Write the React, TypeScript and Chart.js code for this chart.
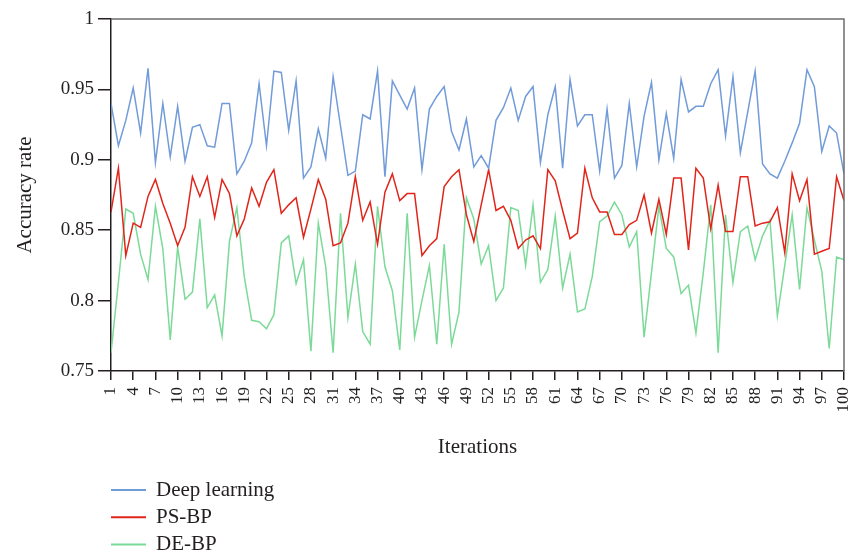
import React, { useEffect, useRef } from "react";
import { Chart, registerables } from "chart.js";

Chart.register(...registerables);

const iterations: number[] = Array.from({ length: 100 }, (_, i) => i + 1);

const xTickValues: number[] = [1, 4, 7, 10, 13, 16, 19, 22, 25, 28, 31, 34, 37, 40, 43, 46, 49, 52, 55, 58, 61, 64, 67, 70, 73, 76, 79, 82, 85, 88, 91, 94, 97, 100];
const yTickValues: number[] = [0.75, 0.8, 0.85, 0.9, 0.95, 1];
const yTickLabels: string[] = ["0.75", "0.8", "0.85", "0.9", "0.95", "1"];

const seriesNames: string[] = ["Deep learning", "PS-BP", "DE-BP"];

const deepLearning: number[] = [
  0.940, 0.910, 0.928, 0.951, 0.919, 0.965, 0.898, 0.940, 0.902, 0.938,
  0.899, 0.923, 0.925, 0.910, 0.909, 0.940, 0.940, 0.890, 0.899, 0.912,
  0.954, 0.910, 0.963, 0.962, 0.921, 0.956, 0.887, 0.895, 0.922, 0.901,
  0.959, 0.924, 0.889, 0.892, 0.932, 0.929, 0.963, 0.888, 0.956, 0.946,
  0.936, 0.951, 0.893, 0.936, 0.945, 0.952, 0.920, 0.907, 0.929, 0.895,
  0.903, 0.894, 0.928, 0.937, 0.951, 0.928, 0.945, 0.952, 0.898, 0.932,
  0.952, 0.894, 0.957, 0.924, 0.932, 0.932, 0.892, 0.936, 0.887, 0.896,
  0.940, 0.895, 0.931, 0.955, 0.900, 0.933, 0.901, 0.957, 0.934, 0.938,
  0.938, 0.954, 0.964, 0.917, 0.959, 0.905, 0.934, 0.963, 0.897, 0.890,
  0.887, 0.899, 0.912, 0.926, 0.964, 0.952, 0.906, 0.924, 0.919, 0.890,
];

const psBp: number[] = [
  0.863, 0.894, 0.832, 0.855, 0.852, 0.874, 0.886, 0.869, 0.855, 0.839,
  0.852, 0.888, 0.874, 0.888, 0.859, 0.886, 0.876, 0.846, 0.858, 0.880,
  0.867, 0.884, 0.893, 0.862, 0.868, 0.873, 0.845, 0.865, 0.886, 0.872,
  0.839, 0.841, 0.855, 0.888, 0.857, 0.870, 0.840, 0.877, 0.890, 0.871,
  0.876, 0.876, 0.832, 0.839, 0.844, 0.881, 0.888, 0.893, 0.861, 0.842,
  0.868, 0.893, 0.864, 0.867, 0.857, 0.837, 0.843, 0.846, 0.837, 0.893,
  0.885, 0.864, 0.844, 0.848, 0.894, 0.873, 0.863, 0.863, 0.847, 0.847,
  0.854, 0.857, 0.875, 0.848, 0.872, 0.847, 0.887, 0.887, 0.836, 0.894,
  0.887, 0.851, 0.882, 0.849, 0.849, 0.888, 0.888, 0.853, 0.855, 0.856,
  0.866, 0.834, 0.890, 0.871, 0.886, 0.833, 0.835, 0.837, 0.888, 0.871,
];

const deBp: number[] = [
  0.763, 0.813, 0.865, 0.862, 0.833, 0.815, 0.867, 0.837, 0.772, 0.838,
  0.801, 0.806, 0.858, 0.795, 0.804, 0.775, 0.842, 0.866, 0.817, 0.786,
  0.785, 0.780, 0.790, 0.841, 0.846, 0.812, 0.829, 0.764, 0.855, 0.824,
  0.763, 0.862, 0.788, 0.826, 0.778, 0.769, 0.867, 0.824, 0.807, 0.765,
  0.862, 0.774, 0.800, 0.825, 0.769, 0.840, 0.769, 0.792, 0.873, 0.858,
  0.826, 0.839, 0.800, 0.809, 0.866, 0.864, 0.825, 0.868, 0.813, 0.822,
  0.860, 0.809, 0.833, 0.792, 0.794, 0.817, 0.856, 0.860, 0.870, 0.861,
  0.838, 0.849, 0.774, 0.820, 0.867, 0.837, 0.831, 0.805, 0.811, 0.777,
  0.820, 0.868, 0.763, 0.861, 0.813, 0.849, 0.853, 0.829, 0.846, 0.857,
  0.789, 0.825, 0.861, 0.808, 0.866, 0.843, 0.821, 0.766, 0.831, 0.829,
];

const seriesColors: string[] = ["#719bd9", "#e1251b", "#7cda98"];

const FONT = '"Liberation Serif", "DejaVu Serif", serif';
const TEXT = "#231f20";

const frameAndLegend = {
  id: "frameAndLegend",
  afterDraw(chart: any) {
    const ctx = chart.ctx;
    const { left, right, top, bottom } = chart.chartArea;
    ctx.save();
    ctx.strokeStyle = "#6d6e71";
    ctx.lineWidth = 1.5;
    ctx.beginPath();
    ctx.moveTo(left, top);
    ctx.lineTo(right, top);
    ctx.lineTo(right, bottom);
    ctx.stroke();

    chart.data.datasets.forEach((ds: any, i: number) => {
      const y = 490 + i * 27.3;
      ctx.strokeStyle = ds.borderColor;
      ctx.lineWidth = 2;
      ctx.beginPath();
      ctx.moveTo(111, y);
      ctx.lineTo(146, y);
      ctx.stroke();
      ctx.fillStyle = TEXT;
      ctx.font = `21px ${FONT}`;
      ctx.textBaseline = "middle";
      ctx.textAlign = "left";
      ctx.fillText(ds.label, 156, y);
    });
    ctx.restore();
  },
};

export default function App() {
  const ref = useRef<HTMLCanvasElement | null>(null);

  useEffect(() => {
    if (!ref.current) return;
    const series = [deepLearning, psBp, deBp];
    const chart = new Chart(ref.current, {
      type: "line",
      data: {
        datasets: series.map((vals, k) => ({
          label: seriesNames[k],
          data: iterations.map((it, i) => ({ x: it, y: vals[i] })),
          borderColor: seriesColors[k],
          backgroundColor: seriesColors[k],
          borderWidth: 1.5,
          pointRadius: 0,
          tension: 0,
          fill: false,
        })),
      },
      options: {
        responsive: false,
        animation: false,
        layout: { padding: { left: 0, right: 5, top: 19, bottom: 92 } },
        plugins: {
          legend: { display: false },
          tooltip: { enabled: false },
        },
        scales: {
          x: {
            type: "linear",
            min: 1,
            max: 100,
            afterBuildTicks: (s: any) => {
              s.ticks = xTickValues.map((v) => ({ value: v }));
            },
            ticks: {
              autoSkip: false,
              minRotation: 90,
              maxRotation: 90,
              padding: 7,
              color: TEXT,
              font: { family: FONT, size: 17 },
              callback: (v: any) => String(v),
            },
            grid: {
              drawOnChartArea: false,
              drawTicks: true,
              tickLength: 9,
              color: TEXT,
              lineWidth: 1.5,
            },
            border: { display: true, color: TEXT, width: 1.5 },
            title: {
              display: true,
              text: "Iterations",
              color: TEXT,
              font: { family: FONT, size: 21 },
              padding: { top: 4, bottom: 0 },
            },
            afterFit: (s: any) => {
              s.height = 89;
              s.paddingLeft = 0;
              s.paddingRight = 0;
            },
          },
          y: {
            type: "linear",
            min: 0.75,
            max: 1,
            afterBuildTicks: (s: any) => {
              s.ticks = yTickValues.map((v) => ({ value: v }));
            },
            ticks: {
              padding: 4,
              color: TEXT,
              font: { family: FONT, size: 19 },
              callback: (v: any) => {
                const idx = yTickValues.findIndex((t) => Math.abs(t - v) < 1e-6);
                return idx >= 0 ? yTickLabels[idx] : "";
              },
            },
            grid: {
              drawOnChartArea: false,
              drawTicks: true,
              tickLength: 13,
              color: TEXT,
              lineWidth: 1.5,
            },
            border: { display: true, color: TEXT, width: 1.5 },
            title: {
              display: true,
              text: "Accuracy rate",
              color: TEXT,
              font: { family: FONT, size: 21 },
              padding: { top: 13, bottom: 0 },
            },
            afterFit: (s: any) => {
              s.width = 111;
              s.paddingTop = 0;
              s.paddingBottom = 0;
            },
          },
        },
      },
      plugins: [frameAndLegend],
    } as any);
    return () => chart.destroy();
  }, []);

  return (
    <div style={{ position: "fixed", left: 0, top: 0, width: 849, height: 552, background: "#fff" }}>
      <canvas ref={ref} width={849} height={552} style={{ display: "block", width: 849, height: 552 }} />
    </div>
  );
}
